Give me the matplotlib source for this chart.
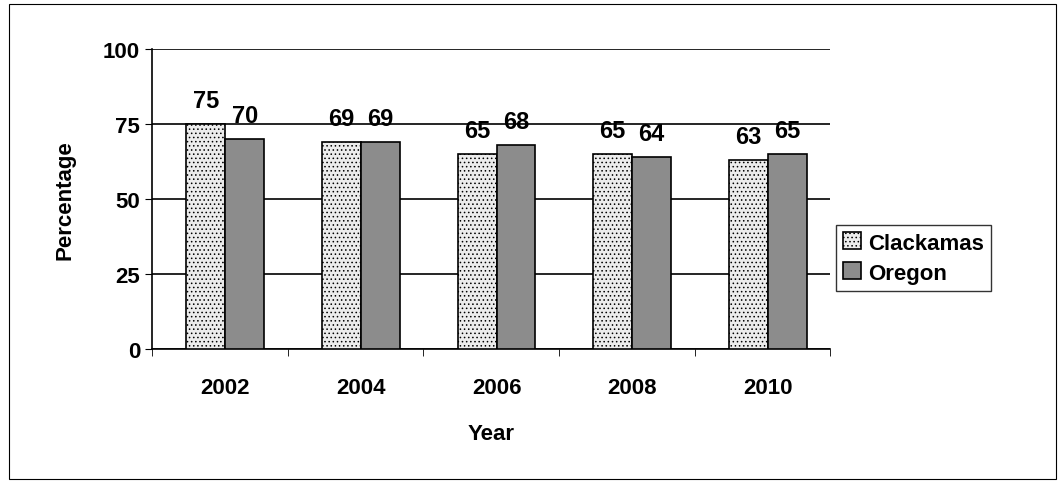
import numpy as np
import matplotlib.pyplot as plt
from matplotlib.patches import Rectangle

years = ["2002", "2004", "2006", "2008", "2010"]
clackamas = [75, 69, 65, 65, 63]
oregon = [70, 69, 68, 64, 65]

plt.rcParams["font.family"] = "Liberation Sans"
plt.rcParams["font.weight"] = "bold"
plt.rcParams["hatch.color"] = "#bdbdbd"
plt.rcParams["hatch.linewidth"] = 0.6

fig = plt.figure(figsize=(10.63, 4.85), dpi=100)
fig.patches.append(Rectangle((0.008, 0.01), 0.985, 0.98, transform=fig.transFigure,
                             fill=False, edgecolor="black", linewidth=0.8))
ax = fig.add_axes([0.143, 0.278, 0.638, 0.619])

x = np.arange(len(years)) + 0.04
w = 0.287
b1 = ax.bar(x - w / 2, clackamas, w, color="#ececec", edgecolor="black",
            linewidth=1.2, hatch="....", label="Clackamas", zorder=3)
b2 = ax.bar(x + w / 2, oregon, w, color="#8c8c8c", edgecolor="black",
            linewidth=1.2, label="Oregon", zorder=3)
for bars in (b1, b2):
    for r in bars:
        ax.text(r.get_x() + r.get_width() / 2, r.get_height() + 4, f"{r.get_height():.0f}",
                ha="center", va="bottom", fontsize=17, fontweight="bold")

ax.set_xlim(-0.5, 4.5)
ax.set_ylim(0, 100)
ax.set_yticks([0, 25, 50, 75, 100])
ax.yaxis.grid(True, color="black", linewidth=1.2, zorder=0)
ax.set_xticks(x)
ax.set_xticklabels(years)
ax.tick_params(axis="both", labelsize=16, length=5, direction="out")
ax.tick_params(axis="x", length=0, pad=20)
for s in ["top", "right"]:
    ax.spines[s].set_visible(False)
ax.spines["bottom"].set_linewidth(1.2)
ax.spines["left"].set_linewidth(1.2)
ax.set_xticks(np.arange(-0.5, 5, 1), minor=True)
ax.tick_params(axis="x", which="minor", length=5)
ax.set_xlabel("Year", fontsize=16, fontweight="bold", labelpad=18)
ax.set_ylabel("Percentage", fontsize=16, fontweight="bold", labelpad=20)

leg = fig.legend(loc="upper left", bbox_to_anchor=(0.786, 0.535), fontsize=16,
                 frameon=True, fancybox=False, edgecolor="black",
                 handlelength=0.8, handleheight=0.8, borderpad=0.35,
                 handletextpad=0.3, labelspacing=0.4, borderaxespad=0)
leg.get_frame().set_linewidth(1.0)

fig.savefig("out.png", dpi=100)
